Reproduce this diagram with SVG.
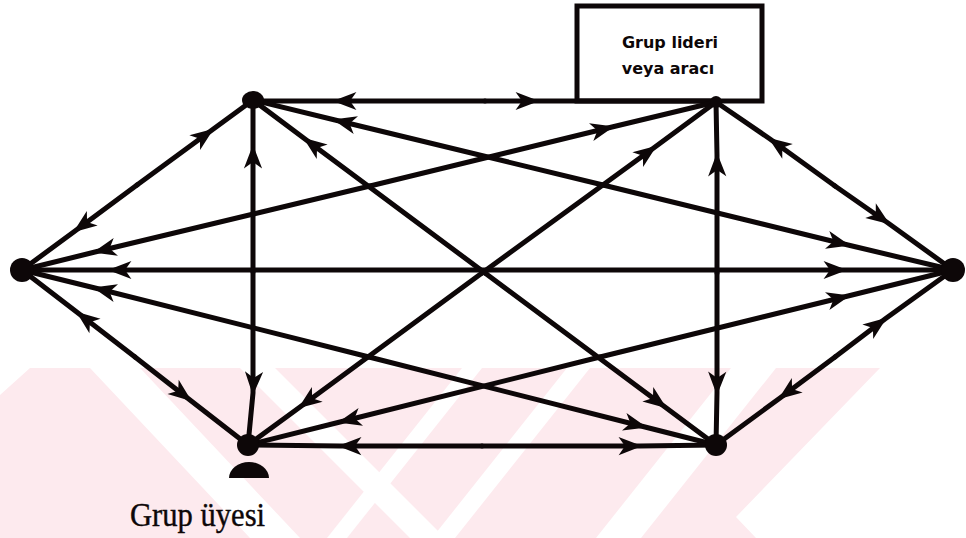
<svg xmlns="http://www.w3.org/2000/svg" width="966" height="538" viewBox="0 0 966 538">
  <style>
    .edge { fill: none; stroke: #0d0708; stroke-width: 5; stroke-linecap: round; marker-mid: url(#arrow); }
    .dot { fill: #0d0708; }
    .box { fill: #ffffff; stroke: #0d0708; stroke-width: 5; }
    .boxText { font-family: "DejaVu Sans", "Liberation Sans", Arial, sans-serif; font-weight: bold; font-size: 16px; fill: #0d0708; text-anchor: middle; }
    .label { font-family: "Liberation Serif", "Times New Roman", serif; font-size: 34px; fill: #0d0708; stroke: #0d0708; stroke-width: 0.4; }
    .wm { fill: #fdeaee; }
    .wmGap { fill: #ffffff; }
  </style>
  <defs>
    <marker id="arrow" markerUnits="userSpaceOnUse" markerWidth="30" markerHeight="30" refX="0" refY="0" viewBox="-24 -12 28 24" orient="auto">
      <path d="M2,0 L-20,-8.5 L-14,0 L-20,8.5 Z" fill="#0d0708"/>
    </marker>
    <clipPath id="wmClip">
      <polygon points="30,368 880,368 736,517 756,538 0,538 0,395"/>
    </clipPath>
  </defs>

  <rect width="966" height="538" fill="#ffffff"/>

  <!-- faint background band pattern -->
  <g id="backdrop" clip-path="url(#wmClip)">
    <rect x="0" y="368" width="966" height="170" class="wm"/>
    <polygon class="wmGap" points="90,368 140,368 300,538 250,538"/>
    <polygon class="wmGap" points="240,368 275,368 445,538 410,538"/>
    <polygon class="wmGap" points="462,368 482,368 347,538 327,538"/>
    <polygon class="wmGap" points="567,368 590,368 455,538 432,538"/>
    <polygon class="wmGap" points="731,368 776,368 641,538 596,538"/>
  </g>

  <!-- leader / mediator box -->
  <g id="leader">
    <rect class="box" x="577" y="6" width="185" height="95"/>
    <text class="boxText" x="670" y="48">Grup lideri</text>
    <text class="boxText" x="668" y="74">veya aracı</text>
  </g>

  <!-- connectors: each edge drawn as two halves from its midpoint, arrowhead at the inner vertex -->
  <g id="connectors">
    <!-- A-B -->
    <path class="edge" d="M485,101 L335,101 L253,101"/>
    <path class="edge" d="M485,101 L537,101 L716,101"/>
    <!-- A-C -->
    <path class="edge" d="M137,185 L212,130 L253,100"/>
    <path class="edge" d="M137,185 L75,231 L22,270"/>
    <!-- A-D -->
    <path class="edge" d="M603,185 L335,120 L253,100"/>
    <path class="edge" d="M603,185 L848,245 L953,270"/>
    <!-- A-E -->
    <path class="edge" d="M253,272 L253,147 L253,100"/>
    <path class="edge" d="M253,272 L253,393 L248,445"/>
    <!-- A-F -->
    <path class="edge" d="M485,273 L305,139 L253,100"/>
    <path class="edge" d="M485,273 L665,407 L716,445"/>
    <!-- B-C -->
    <path class="edge" d="M370,186 L612,127 L716,102"/>
    <path class="edge" d="M370,186 L95,252 L22,270"/>
    <!-- B-D -->
    <path class="edge" d="M835,186 L770,139 L716,102"/>
    <path class="edge" d="M835,186 L888,223 L953,270"/>
    <!-- B-E -->
    <path class="edge" d="M482,273 L655,147 L716,102"/>
    <path class="edge" d="M482,273 L300,407 L248,445"/>
    <!-- B-F -->
    <path class="edge" d="M717,273 L717,155 L716,102"/>
    <path class="edge" d="M717,273 L717,393 L716,445"/>
    <!-- C-D -->
    <path class="edge" d="M488,270 L110,270 L22,270"/>
    <path class="edge" d="M488,270 L845,270 L953,270"/>
    <!-- C-E -->
    <path class="edge" d="M135,357 L78,313 L22,270"/>
    <path class="edge" d="M135,357 L190,400 L248,445"/>
    <!-- C-F -->
    <path class="edge" d="M369,357 L95,288 L22,270"/>
    <path class="edge" d="M369,357 L645,427 L716,445"/>
    <!-- D-E -->
    <path class="edge" d="M600,357 L848,296 L953,270"/>
    <path class="edge" d="M600,357 L340,422 L248,445"/>
    <!-- D-F -->
    <path class="edge" d="M835,357 L885,319 L953,270"/>
    <path class="edge" d="M835,357 L780,398 L716,445"/>
    <!-- E-F -->
    <path class="edge" d="M482,446 L340,446 L248,445"/>
    <path class="edge" d="M482,446 L640,446 L716,445"/>
  </g>

  <!-- member nodes -->
  <g id="nodeA"><ellipse class="dot" cx="253" cy="100" rx="11" ry="9"/></g>
  <g id="nodeB"><circle class="dot" cx="716" cy="102" r="6"/></g>
  <g id="nodeC"><circle class="dot" cx="22" cy="270" r="12"/></g>
  <g id="nodeD"><circle class="dot" cx="953" cy="270" r="12"/></g>
  <g id="nodeE">
    <circle class="dot" cx="248" cy="445" r="11"/>
    <path class="dot" d="M229,478 A20,16 0 0 1 269,478 Z"/>
    <text class="label" transform="translate(130,526) scale(0.9,1)">Grup üyesi</text>
  </g>
  <g id="nodeF"><circle class="dot" cx="716" cy="445" r="11"/></g>
</svg>
